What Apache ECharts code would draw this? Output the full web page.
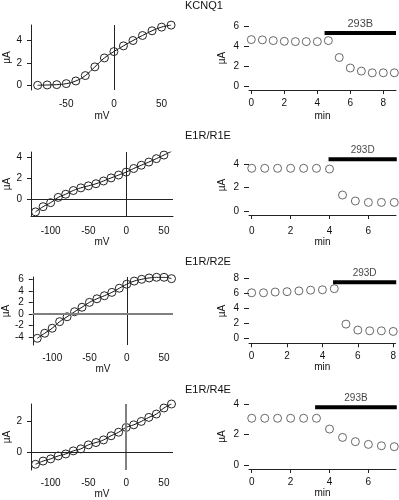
<!DOCTYPE html>
<html>
<head>
<meta charset="utf-8">
<script src="https://cdn.jsdelivr.net/npm/echarts@6/dist/echarts.min.js"></script>
<style>
html, body { margin: 0; padding: 0; background: #fff; }
#chart { width: 399px; height: 500px; }
</style>
</head>
<body>
<div id="chart"></div>
<script>
// panel titles
var titles = ['KCNQ1', 'E1R/R1E', 'E1R/R2E', 'E1R/R4E'];

// I-V curves (mV, uA)
var voltKcnq1 = [-80, -70, -60, -50, -40, -30, -20, -10, 0, 10, 20, 30, 40, 50, 60];
var voltChimera = [-120, -110, -100, -90, -80, -70, -60, -50, -40, -30, -20, -10, 0, 10, 20, 30, 40, 50, 60];
var ivKcnq1 = [0.0, 0.03, 0.06, 0.15, 0.39, 0.87, 1.65, 2.45, 3.02, 3.53, 4.01, 4.46, 4.88, 5.21, 5.39];
var ivR1E = [-1.21, -0.72, -0.34, 0.16, 0.46, 0.81, 1.06, 1.25, 1.45, 1.71, 2.0, 2.27, 2.55, 2.89, 3.2, 3.5, 3.82, 4.16, 4.51];
var ivR2E = [-4.19, -3.31, -2.44, -1.3, -0.45, 0.42, 1.2, 2.05, 2.67, 3.2, 3.78, 4.5, 5.2, 5.74, 6.05, 6.28, 6.4, 6.4, 6.16];
var ivR4E = [-0.78, -0.57, -0.43, -0.24, -0.11, 0.09, 0.22, 0.48, 0.63, 0.8, 1.07, 1.3, 1.61, 1.78, 2.0, 2.26, 2.48, 2.87, 3.13];

// time courses (min, uA)
var timeKcnq1 = [0, 0.67, 1.33, 2, 2.67, 3.33, 4, 4.67, 5.33, 6, 6.67, 7.33, 8, 8.67];
var curKcnq1 = [4.64, 4.61, 4.54, 4.47, 4.44, 4.44, 4.44, 4.54, 2.85, 1.8, 1.49, 1.32, 1.32, 1.32];
var timeR1E = [0, 0.67, 1.33, 2, 2.67, 3.33, 4, 4.67, 5.33, 6, 6.67, 7.33];
var curR1E = [3.66, 3.66, 3.66, 3.66, 3.66, 3.66, 3.6, 1.37, 0.86, 0.74, 0.74, 0.74];
var timeR2E = [0, 0.67, 1.33, 2, 2.67, 3.33, 4, 4.67, 5.33, 6, 6.67, 7.33, 8];
var curR2E = [6.1, 6.1, 6.2, 6.25, 6.35, 6.45, 6.5, 6.65, 1.9, 1.1, 1.0, 1.0, 0.92];
var timeR4E = [0, 0.67, 1.33, 2, 2.67, 3.33, 4, 4.67, 5.33, 6, 6.67, 7.33];
var curR4E = [3.08, 3.08, 3.08, 3.08, 3.08, 3.08, 2.37, 1.82, 1.54, 1.36, 1.27, 1.21];

// drug application bars
var drugNames = ['293B', '293D', '293D', '293B'];
var drugStart = [4.44, 3.95, 4.6, 3.26];
var drugEnd = [8.77, 7.46, 8.17, 7.46];
var drugLevel = [5.3, 4.43, 7.5, 3.8];

// tick labels
var ivXTicks = [[-50, 0, 50], [-100, -50, 0, 50], [-100, -50, 0, 50], [-100, -50, 0, 50]];
var ivYTicks = [[0, 2, 4], [0, 2, 4], [-4, -2, 0, 2, 4, 6], [0, 2]];
var tcXTicks = [[0, 2, 4, 6, 8], [0, 2, 4, 6], [0, 2, 4, 6, 8], [0, 2, 4, 6]];
var tcYTicks = [[0, 2, 4, 6], [0, 2, 4], [0, 2, 4, 6, 8], [0, 2, 4]];

var ivVolts = [voltKcnq1, voltChimera, voltChimera, voltChimera];
var ivCurs = [ivKcnq1, ivR1E, ivR2E, ivR4E];
var tcTimes = [timeKcnq1, timeR1E, timeR2E, timeR4E];
var tcCurs = [curKcnq1, curR1E, curR2E, curR4E];

// layout
var font = 'Liberation Sans, Arial, sans-serif';
var titleTop = [0, 130, 256, 384];
var ivTop = [25, 152, 277, 404], ivHeight = [65, 64, 68, 66];
var ivXRange = [[-87, 62], [-126, 62], [-126, 62], [-126, 62]];
var ivYRange = [[-0.42, 5.4], [-1.6, 4.45], [-5.35, 6.45], [-1.15, 3.13]];
var ivLabelMargin = [9, 10, 8, 8], ivNameGap = [21, 21, 18, 19];
var tcTop = [26, 155, 278.6, 404.3], tcHeight = [64, 60, 64.7, 64.7];
var tcXRange = [[-0.14, 8.77], [-0.14, 7.42], [-0.15, 8.13], [-0.14, 7.42]];
var tcYRange = [[-0.4, 6], [-0.34, 4.8], [-0.67, 8], [-0.26, 4]];
var tcLabelMargin = [8, 11, 8, 8], tcNameGap = [21, 21, 19, 18];
var drugFont = [11, 10, 10, 10];
var thin = { color: '#222', width: 1, type: 'solid' }, thick = { color: '#808080', width: 2, type: 'solid' };
var zeroV = [thin, thin, thin, thick];
var zeroH = [null, thin, thick, thin];

var chart = echarts.init(document.getElementById('chart'));
var option = { animation: false, title: [], grid: [], xAxis: [], yAxis: [], series: [] };

function tickLabel(values, margin) {
	return { customValues: values, margin: margin, fontSize: 10, color: '#111', fontFamily: font };
}
function axisName() {
	return { fontSize: 10, color: '#111', fontFamily: font };
}
function ringStyle(c) {
	return { color: 'rgba(0,0,0,0)', borderColor: c, borderWidth: 1 };
}

for (var i = 0; i < 4; i++) {
	option.title.push({
		text: titles[i], left: 185, top: titleTop[i], padding: 0,
		textStyle: { fontSize: 11, fontWeight: 'normal', color: '#111', fontFamily: font }
	});

	var gl = 2 * i, gr = 2 * i + 1;
	option.grid.push({ left: 31, top: ivTop[i], width: 142, height: ivHeight[i] });
	option.grid.push({ left: 249, top: tcTop[i], width: 147, height: tcHeight[i] });

	// I-V axes
	option.xAxis.push({
		type: 'value', gridIndex: gl, min: ivXRange[i][0], max: ivXRange[i][1],
		axisLine: { show: i === 1, onZero: false, lineStyle: { color: '#222' } },
		axisTick: { show: false },
		axisLabel: tickLabel(ivXTicks[i], ivLabelMargin[i]),
		splitLine: { show: false },
		name: 'mV', nameLocation: 'middle', nameGap: ivNameGap[i], nameTextStyle: axisName()
	});
	option.yAxis.push({
		type: 'value', gridIndex: gl, min: ivYRange[i][0], max: ivYRange[i][1],
		axisLine: { show: true, onZero: false, lineStyle: { color: '#222' } },
		axisTick: { show: true, length: 4, customValues: ivYTicks[i], lineStyle: { color: '#222' } },
		axisLabel: tickLabel(ivYTicks[i], 9),
		splitLine: { show: false },
		name: 'µA', nameLocation: 'middle', nameGap: 16, nameTextStyle: axisName()
	});

	// time course axes
	option.xAxis.push({
		type: 'value', gridIndex: gr, min: tcXRange[i][0], max: tcXRange[i][1],
		axisLine: { show: true, onZero: false, lineStyle: { color: '#222' } },
		axisTick: { show: true, length: 4, customValues: tcXTicks[i], lineStyle: { color: '#222' } },
		axisLabel: tickLabel(tcXTicks[i], tcLabelMargin[i]),
		splitLine: { show: false },
		name: 'min', nameLocation: 'middle', nameGap: tcNameGap[i], nameTextStyle: axisName()
	});
	option.yAxis.push({
		type: 'value', gridIndex: gr, min: tcYRange[i][0], max: tcYRange[i][1],
		axisLine: { show: false, onZero: false },
		axisTick: { show: true, length: 5, customValues: tcYTicks[i], lineStyle: { color: '#222' } },
		axisLabel: tickLabel(tcYTicks[i], 10),
		splitLine: { show: false },
		name: 'µA', nameLocation: 'middle', nameGap: 22, nameTextStyle: axisName()
	});

	// zero lines on I-V panels
	var marks = [{ xAxis: 0, lineStyle: zeroV[i] }];
	if (zeroH[i]) marks.push({ yAxis: 0, lineStyle: zeroH[i] });

	var ivData = ivVolts[i].map(function (v, k) { return [v, ivCurs[i][k]]; });
	option.series.push({
		type: 'line', xAxisIndex: gl, yAxisIndex: gl, data: ivData, smooth: true,
		symbol: 'circle', symbolSize: 8,
		lineStyle: { color: '#111', width: 1 },
		itemStyle: ringStyle('#222'),
		markLine: {
			silent: true, symbol: ['none', 'none'], label: { show: false },
			lineStyle: { type: 'solid' }, data: marks
		}
	});

	var tcData = tcTimes[i].map(function (t, k) { return [t, tcCurs[i][k]]; });
	option.series.push({
		type: 'scatter', xAxisIndex: gr, yAxisIndex: gr, data: tcData,
		symbol: 'circle', symbolSize: 8,
		itemStyle: ringStyle('#444')
	});

	option.series.push({
		type: 'line', xAxisIndex: gr, yAxisIndex: gr, clip: false, symbol: 'none',
		data: [[drugStart[i], drugLevel[i]], [drugEnd[i], drugLevel[i]]],
		lineStyle: { color: '#000', width: 4 }
	});
	option.series.push({
		type: 'scatter', xAxisIndex: gr, yAxisIndex: gr, symbolSize: 0,
		data: [[(drugStart[i] + drugEnd[i]) / 2, drugLevel[i]]],
		itemStyle: { color: 'transparent' },
		label: {
			show: true, position: 'top', distance: 4, formatter: drugNames[i],
			fontSize: drugFont[i], color: '#111', fontFamily: font
		}
	});
}

chart.setOption(option);
</script>
</body>
</html>
